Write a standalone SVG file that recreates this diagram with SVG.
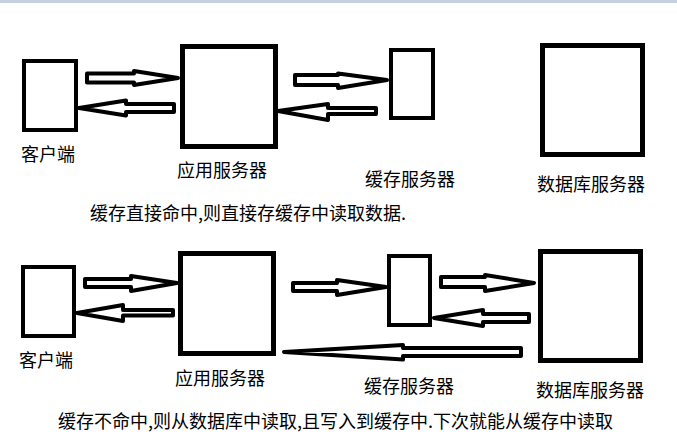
<svg xmlns="http://www.w3.org/2000/svg" width="677" height="446" viewBox="0 0 677 446">
<style>
.box{fill:#fff;stroke:#000;stroke-width:4}
.big{stroke-width:5}
.arr{fill:#fff;stroke:#000;stroke-width:4;stroke-linejoin:round}
text{font-family:"Noto Sans CJK SC","Noto Sans",sans-serif;font-size:18px;fill:#000}
</style>
<rect x="0" y="0" width="677" height="446" fill="#fff"/>
<rect x="0" y="0" width="677" height="3" fill="#c5cfe0"/>

<g id="top-client"><rect class="box" x="24" y="61" width="52" height="69"/><text x="21" y="161">客户端</text></g>
<g id="top-app"><rect class="box big" x="182.5" y="46.5" width="93" height="100"/><text x="177" y="177">应用服务器</text></g>
<g id="top-cache"><rect class="box" x="391" y="50" width="42" height="68"/><text x="365" y="186">缓存服务器</text></g>
<g id="top-db"><rect class="box big" x="542.5" y="45.5" width="100" height="109"/><text x="537" y="191">数据库服务器</text></g>

<g id="bottom-client"><rect class="box" x="23" y="267" width="51" height="69"/><text x="19" y="367">客户端</text></g>
<g id="bottom-app"><rect class="box big" x="180.5" y="253.5" width="93" height="100"/><text x="175" y="385">应用服务器</text></g>
<g id="bottom-cache"><rect class="box" x="389" y="256" width="41" height="69"/><text x="364" y="393">缓存服务器</text></g>
<g id="bottom-db"><rect class="box big" x="540.5" y="251.5" width="100" height="109"/><text x="536" y="397">数据库服务器</text></g>

<g id="connectors">
<path class="arr" d="M87,73.5 L134,73.5 L134,71 L178,78 L134,85 L134,82.5 L87,82.5 Z"/>
<path class="arr" d="M174,104 L126,104 L126,100.5 L79,108 L126,115.5 L126,112 L174,112 Z"/>
<path class="arr" d="M295,75 L338,75 L338,73.5 L387,80 L338,88 L338,85 L295,85 Z"/>
<path class="arr" d="M376,108 L328,108 L328,104 L278,111 L328,120 L328,114 L376,114 Z"/>

<path class="arr" d="M85,279 L131,279 L131,276 L177,283 L131,291 L131,287 L85,287 Z"/>
<path class="arr" d="M173,310 L123,310 L123,305 L77,313 L123,321 L123,315.5 L173,315.5 Z"/>
<path class="arr" d="M293,283 L337,283 L337,280 L386,287 L337,295 L337,291 L293,291 Z"/>
<path class="arr" d="M441,277 L485,277 L485,275 L534,283 L485,291 L485,287 L441,287 Z"/>
<path class="arr" d="M529,314 L483,314 L483,310 L434,318 L483,326 L483,322 L529,322 Z"/>
<path class="arr" d="M521,348 L403,348 L403,345 L284,352 L403,359.5 L403,356 L521,356 Z"/>
</g>

<g id="captions">
<text x="90" y="220">缓存直接命中,则直接存缓存中读取数据.</text>
<text x="58" y="428">缓存不命中,则从数据库中读取,且写入到缓存中.下次就能从缓存中读取</text>
</g>
</svg>
